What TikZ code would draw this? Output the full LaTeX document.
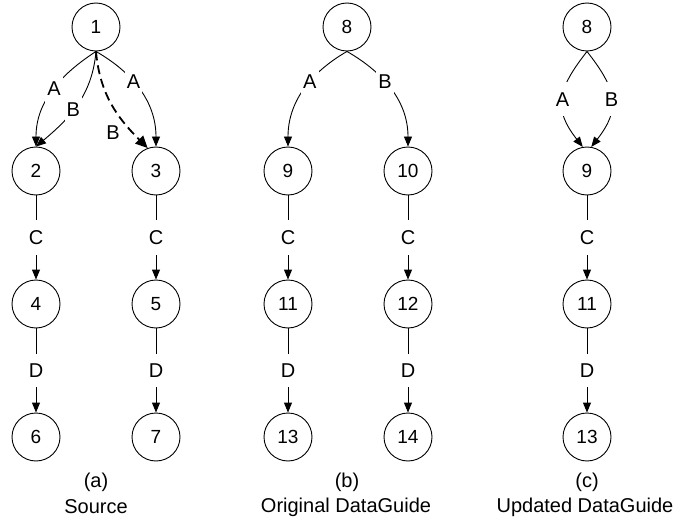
\documentclass[tikz,border=0pt]{standalone}
\usepackage{fontspec}
\setmainfont{Liberation Sans}
\usetikzlibrary{arrows.meta}
\begin{document}
\begin{tikzpicture}[x=1pt,y=1pt,
  vertex/.style={circle,draw,line width=0.9pt,minimum size=48pt,inner sep=0pt,font=\fontsize{19}{19}\selectfont},
  edge/.style={line width=0.9pt,-{Triangle[length=10pt,width=8pt]}},
  dedge/.style={line width=1.8pt,dash pattern=on 9pt off 5pt,-{Triangle[length=12pt,width=11pt]}},
  lbl/.style={fill=white,inner xsep=2pt,inner ysep=10pt,font=\fontsize{20}{20}\selectfont},
  plbl/.style={inner sep=0pt,font=\fontsize{20}{20}\selectfont},
  capt/.style={inner sep=0pt,font=\fontsize{20}{20}\selectfont}]
\useasboundingbox (0,0) rectangle (681,-519);
% (a) Source
\node[vertex] (n1) at (96,-27) {1};
\node[vertex] (n2) at (36,-171) {2};
\node[vertex] (n3) at (156,-171) {3};
\node[vertex] (n4) at (36,-304) {4};
\node[vertex] (n5) at (156,-304) {5};
\node[vertex] (n6) at (36,-437) {6};
\node[vertex] (n7) at (156,-437) {7};
% (b) Original DataGuide
\node[vertex] (m8) at (347,-27) {8};
\node[vertex] (m9) at (288,-171) {9};
\node[vertex] (m10) at (408,-171) {10};
\node[vertex] (m11) at (288,-304) {11};
\node[vertex] (m12) at (408,-304) {12};
\node[vertex] (m13) at (288,-437) {13};
\node[vertex] (m14) at (408,-437) {14};
% (c) Updated DataGuide
\node[vertex] (u8) at (587,-27) {8};
\node[vertex] (u9) at (587,-171) {9};
\node[vertex] (u11) at (587,-304) {11};
\node[vertex] (u13) at (587,-437) {13};

% edges (a)
\draw[edge] (n1.south) to[out=213,in=90] node[lbl,pos=0.47]{A} (n2.north);
\draw[edge] (n1.south) to[out=265,in=40] node[lbl,pos=0.56]{B} (n2.north);
\draw[edge] (n1.south) to[out=330,in=90] node[lbl,pos=0.4]{A} (n3.north);
\draw[dedge] (n1.south) to[out=275,in=135] (n3.110);
\node[plbl] (bl) at (113,-133) {B};
\draw[edge] (n2) -- node[lbl]{C} (n4);
\draw[edge] (n3) -- node[lbl]{C} (n5);
\draw[edge] (n4) -- node[lbl]{D} (n6);
\draw[edge] (n5) -- node[lbl]{D} (n7);
% edges (b)
\draw[edge] (m8.south) to[out=210,in=90] node[lbl,pos=0.4]{A} (m9.north);
\draw[edge] (m8.south) to[out=330,in=90] node[lbl,pos=0.4]{B} (m10.north);
\draw[edge] (m9) -- node[lbl]{C} (m11);
\draw[edge] (m10) -- node[lbl]{C} (m12);
\draw[edge] (m11) -- node[lbl]{D} (m13);
\draw[edge] (m12) -- node[lbl]{D} (m14);
% edges (c)
\draw[edge] (u8.south) to[out=232,in=128,looseness=1.3] node[lbl,pos=0.5]{A} (u9.100);
\draw[edge] (u8.south) to[out=308,in=52,looseness=1.3] node[lbl,pos=0.5]{B} (u9.80);
\draw[edge] (u9) -- node[lbl]{C} (u11);
\draw[edge] (u11) -- node[lbl]{D} (u13);

% captions
\node[capt] (ca) at (96,-482) {(a)};
\node[capt] (cas) at (96,-507) {Source};
\node[capt] (cb) at (347,-482) {(b)};
\node[capt] (cbs) at (346,-507) {Original DataGuide};
\node[capt] (cc) at (587,-482) {(c)};
\node[capt] (ccs) at (585,-507) {Updated DataGuide};
\end{tikzpicture}
\end{document}
